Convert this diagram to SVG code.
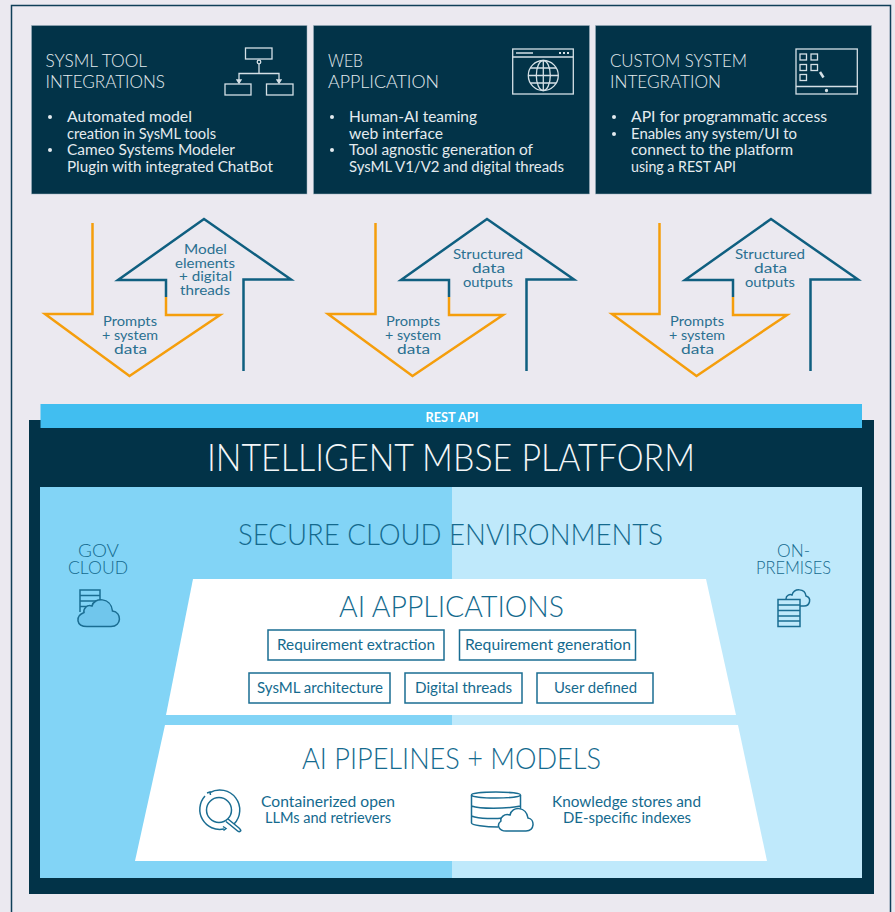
<svg xmlns="http://www.w3.org/2000/svg" width="895" height="912" viewBox="0 0 895 912">
<style>
text{font-family:"Lato","Liberation Sans",sans-serif;font-weight:300}
.h{font-size:18.500px;fill:#e4ebef}
.b{font-size:14.500px;fill:#e4ebef;font-weight:400}
.a{font-size:14px;fill:#2a7090;font-weight:400}
.t{fill:#146a8e}
.s{font-size:14.500px;fill:#146a8e;font-weight:400}
.card{fill:#023348;stroke:#9fb4bf;stroke-width:.5}
.ic{fill:none;stroke:#d5e0e6;stroke-width:1.3}
.o{fill:none;stroke:#f59e0c;stroke-width:2.500}
.l{fill:none;stroke:#0f5f80;stroke-width:2.500}
.bx{fill:#fff;stroke:#1a6d92;stroke-width:1.500}
.si{fill:none;stroke:#1a6d92;stroke-width:1.500}
</style>
<defs>
<g id="arrows">
<path class="o" d="M92.500 223V314H45L129.500 376L220 315H166V297"/>
<path class="l" d="M166 297V280H118L204 219L291 279.500H243.500V371"/>
</g>
</defs>
<rect width="895" height="912" fill="#ebe9f0"/>
<path d="M11.500 912V5.500H890.500V912" fill="none" stroke="#0f3f58" stroke-width="1.500"/>

<g id="card-sysml">
<rect class="card" x="31.500" y="25.500" width="275.500" height="168.500"/>
<text class="h" x="45.500" y="67" textLength="101.500" lengthAdjust="spacingAndGlyphs">SYSML TOOL</text>
<text class="h" x="45.500" y="88" textLength="119.500" lengthAdjust="spacingAndGlyphs">INTEGRATIONS</text>
<circle cx="50" cy="117" r="2" fill="#e4ebef"/><circle cx="50" cy="150" r="2" fill="#e4ebef"/>
<text class="b" x="67" y="122" textLength="125" lengthAdjust="spacingAndGlyphs">Automated model</text>
<text class="b" x="67" y="139" textLength="149" lengthAdjust="spacingAndGlyphs">creation in SysML tools</text>
<text class="b" x="67" y="155" textLength="168" lengthAdjust="spacingAndGlyphs">Cameo Systems Modeler</text>
<text class="b" x="67" y="172" textLength="206" lengthAdjust="spacingAndGlyphs">Plugin with integrated ChatBot</text>
<g class="ic">
<rect x="245.500" y="48" width="26.500" height="11"/><rect x="225" y="84" width="26" height="11"/><rect x="266.500" y="84" width="26.500" height="11"/>
<circle cx="259" cy="62" r="1.800"/><path d="M259 64V73.500M239 81V73.500H279V81"/>
<path d="M237 80h4l-2 3zM277 80h4l-2 3z" fill="#d5e0e6"/>
</g>
</g>

<g id="card-web">
<rect class="card" x="313.500" y="25.500" width="276" height="168.500"/>
<text class="h" x="328" y="67" textLength="35" lengthAdjust="spacingAndGlyphs">WEB</text>
<text class="h" x="328" y="88" textLength="111" lengthAdjust="spacingAndGlyphs">APPLICATION</text>
<circle cx="332" cy="117" r="2" fill="#e4ebef"/><circle cx="332" cy="150" r="2" fill="#e4ebef"/>
<text class="b" x="349" y="122" textLength="128" lengthAdjust="spacingAndGlyphs">Human-AI teaming</text>
<text class="b" x="349" y="139" textLength="94" lengthAdjust="spacingAndGlyphs">web interface</text>
<text class="b" x="349" y="155" textLength="184" lengthAdjust="spacingAndGlyphs">Tool agnostic generation of</text>
<text class="b" x="349" y="172" textLength="215" lengthAdjust="spacingAndGlyphs">SysML V1/V2 and digital threads</text>
<g class="ic">
<rect x="512.700" y="49" width="60.600" height="45"/><path d="M512.700 57H573.300M516 53H533"/>
<path d="M559 53h2M563 53h2M567 53h2" stroke-width="2"/>
<circle cx="543.300" cy="75.500" r="15"/><ellipse cx="543.300" cy="75.500" rx="7" ry="15"/>
<path d="M543.300 60.500V90.500M528.300 75.500H558.300M530.500 68H556M530.500 83H556"/>
</g>
</g>

<g id="card-custom">
<rect class="card" x="595.500" y="25.500" width="276" height="168.500"/>
<text class="h" x="610" y="67" textLength="137" lengthAdjust="spacingAndGlyphs">CUSTOM SYSTEM</text>
<text class="h" x="610" y="88" textLength="111" lengthAdjust="spacingAndGlyphs">INTEGRATION</text>
<circle cx="614" cy="117" r="2" fill="#e4ebef"/><circle cx="614" cy="134" r="2" fill="#e4ebef"/>
<text class="b" x="631" y="122" textLength="196" lengthAdjust="spacingAndGlyphs">API for programmatic access</text>
<text class="b" x="631" y="139" textLength="166" lengthAdjust="spacingAndGlyphs">Enables any system/UI to</text>
<text class="b" x="631" y="155" textLength="162" lengthAdjust="spacingAndGlyphs">connect to the platform</text>
<text class="b" x="631" y="172" textLength="105" lengthAdjust="spacingAndGlyphs">using a REST API</text>
<g class="ic">
<rect x="796" y="49" width="61.300" height="45"/><path d="M796 86.500H857.300"/>
<circle cx="826.500" cy="90.500" r="1" fill="#d5e0e6"/>
<rect x="800" y="54" width="6.500" height="6"/><rect x="811" y="54" width="6.500" height="6"/>
<rect x="800" y="64.500" width="6.500" height="6"/><rect x="811" y="64.500" width="6.500" height="6"/>
<rect x="800" y="74.500" width="6.500" height="6"/>
<path d="M820 72L823.500 77.500" stroke-width="2.500"/>
</g>
</g>

<g id="connectors">
<use href="#arrows"/>
<use href="#arrows" x="283"/>
<use href="#arrows" x="567"/>
</g>

<g id="arrow-labels">
<text class="a" x="103" y="326" textLength="54" lengthAdjust="spacingAndGlyphs">Prompts</text>
<text class="a" x="102" y="340" textLength="56" lengthAdjust="spacingAndGlyphs">+ system</text>
<text class="a" x="114" y="354" textLength="33" lengthAdjust="spacingAndGlyphs">data</text>
<text class="a" x="184" y="254" textLength="43" lengthAdjust="spacingAndGlyphs">Model</text>
<text class="a" x="175" y="268" textLength="60" lengthAdjust="spacingAndGlyphs">elements</text>
<text class="a" x="179" y="281" textLength="53" lengthAdjust="spacingAndGlyphs">+ digital</text>
<text class="a" x="180" y="295" textLength="50" lengthAdjust="spacingAndGlyphs">threads</text>
<text class="a" x="386" y="326" textLength="54" lengthAdjust="spacingAndGlyphs">Prompts</text>
<text class="a" x="385" y="340" textLength="56" lengthAdjust="spacingAndGlyphs">+ system</text>
<text class="a" x="397" y="354" textLength="33" lengthAdjust="spacingAndGlyphs">data</text>
<text class="a" x="453" y="259" textLength="70" lengthAdjust="spacingAndGlyphs">Structured</text>
<text class="a" x="472" y="273" textLength="33" lengthAdjust="spacingAndGlyphs">data</text>
<text class="a" x="463" y="287" textLength="50" lengthAdjust="spacingAndGlyphs">outputs</text>
<text class="a" x="670" y="326" textLength="54" lengthAdjust="spacingAndGlyphs">Prompts</text>
<text class="a" x="669" y="340" textLength="56" lengthAdjust="spacingAndGlyphs">+ system</text>
<text class="a" x="681" y="354" textLength="33" lengthAdjust="spacingAndGlyphs">data</text>
<text class="a" x="735" y="259" textLength="70" lengthAdjust="spacingAndGlyphs">Structured</text>
<text class="a" x="754" y="273" textLength="33" lengthAdjust="spacingAndGlyphs">data</text>
<text class="a" x="745" y="287" textLength="50" lengthAdjust="spacingAndGlyphs">outputs</text>
</g>

<g id="platform">
<rect x="29" y="420" width="845" height="474" fill="#023348"/>
<rect x="40.500" y="404" width="821.500" height="24" fill="#41bef0"/>
<text x="425.500" y="422" font-size="12.500" style="font-weight:700" fill="#fff" textLength="53" lengthAdjust="spacingAndGlyphs">REST API</text>
<text x="207" y="471" font-size="36.500" fill="#f2f6f8" textLength="488" lengthAdjust="spacingAndGlyphs">INTELLIGENT MBSE PLATFORM</text>
<rect x="40" y="487" width="412" height="391" fill="#82d4f6"/>
<rect x="452" y="487" width="410" height="391" fill="#bfe9fb"/>
<text class="t" x="238" y="545" font-size="28.500" textLength="425" lengthAdjust="spacingAndGlyphs">SECURE CLOUD ENVIRONMENTS</text>
</g>

<g id="gov-cloud">
<text class="t" x="78" y="557" font-size="18" textLength="41" lengthAdjust="spacingAndGlyphs">GOV</text>
<text class="t" x="68" y="574" font-size="18" textLength="60" lengthAdjust="spacingAndGlyphs">CLOUD</text>
<g class="si">
<path d="M80 612V590H100V600M80 595.500H100M80 601H97M80 606.500H88"/>
<path d="M87 626.500H111C122 626.500 122 612 112.500 611C111 597 94 597 92 606C87 604 83 609 84 612.500C75 616 76 626.500 87 626.500Z" fill="#70c6ec"/>
</g>
</g>

<g id="on-premises">
<text class="t" x="777" y="557" font-size="18" textLength="33" lengthAdjust="spacingAndGlyphs">ON-</text>
<text class="t" x="756" y="574" font-size="18" textLength="75" lengthAdjust="spacingAndGlyphs">PREMISES</text>
<g class="si">
<path d="M786 599C786 595 790 594 792 595C794 588 805 588 806 596C812 598 810 606 804 606H800"/>
<rect x="778" y="599.500" width="22" height="27"/>
<path d="M778 605H800M778 610.500H800M778 616H800M778 621H800"/>
</g>
</g>

<g id="ai-applications">
<path d="M193 579H706L736 715H166Z" fill="#fff"/>
<text class="t" x="339" y="617" font-size="28.500" textLength="225" lengthAdjust="spacingAndGlyphs">AI APPLICATIONS</text>
</g>
<g id="req-extraction"><rect class="bx" x="268" y="630" width="176" height="30"/><text class="s" x="277" y="650" textLength="158" lengthAdjust="spacingAndGlyphs">Requirement extraction</text></g>
<g id="req-generation"><rect class="bx" x="459.500" y="630" width="176" height="30"/><text class="s" x="465" y="650" textLength="166" lengthAdjust="spacingAndGlyphs">Requirement generation</text></g>
<g id="sysml-arch"><rect class="bx" x="249" y="673" width="141" height="30"/><text class="s" x="257" y="693" textLength="126" lengthAdjust="spacingAndGlyphs">SysML architecture</text></g>
<g id="digital-threads"><rect class="bx" x="405" y="673" width="117" height="30"/><text class="s" x="415" y="693" textLength="97" lengthAdjust="spacingAndGlyphs">Digital threads</text></g>
<g id="user-defined"><rect class="bx" x="537" y="673" width="116" height="30"/><text class="s" x="554" y="693" textLength="83" lengthAdjust="spacingAndGlyphs">User defined</text></g>

<g id="ai-pipelines">
<path d="M165 725H738L767 861H135Z" fill="#fff"/>
<text class="t" x="302" y="769" font-size="28.500" textLength="299" lengthAdjust="spacingAndGlyphs">AI PIPELINES + MODELS</text>
<text class="s" x="261" y="807" textLength="134" lengthAdjust="spacingAndGlyphs">Containerized open</text>
<text class="s" x="265" y="823" textLength="126" lengthAdjust="spacingAndGlyphs">LLMs and retrievers</text>
<text class="s" x="552" y="807" textLength="149" lengthAdjust="spacingAndGlyphs">Knowledge stores and</text>
<text class="s" x="563" y="823" textLength="128" lengthAdjust="spacingAndGlyphs">DE-specific indexes</text>
<g class="si">
<circle cx="219" cy="810" r="12.500"/>
<path d="M210 792.500A20 20 0 0 1 234 824"/>
<path d="M224 829A20 20 0 0 1 205 796"/>
<path d="M207 793l3-1 .5 3M223 826.500l3 2-2.500 2"/>
<path d="M228 819L239 828Q241.500 830.500 240.500 831Q239 832.500 237 830.500L226 821.500"/>
</g>
<g class="si">
<ellipse cx="496" cy="795" rx="24.500" ry="3"/>
<path d="M471.500 795V823C471.500 825 485 827 498 827M520.500 795V812M471.500 806C480 809 505 809 520.500 806M471.500 816C480 819 495 819 503 818"/>
<path d="M506 831H526C535 831 535 819 528 818C526 806 512 806 510 815C504 813 500 818 501 821C496 825 499 831 506 831Z" fill="#fff"/>
</g>
</g>
</svg>
